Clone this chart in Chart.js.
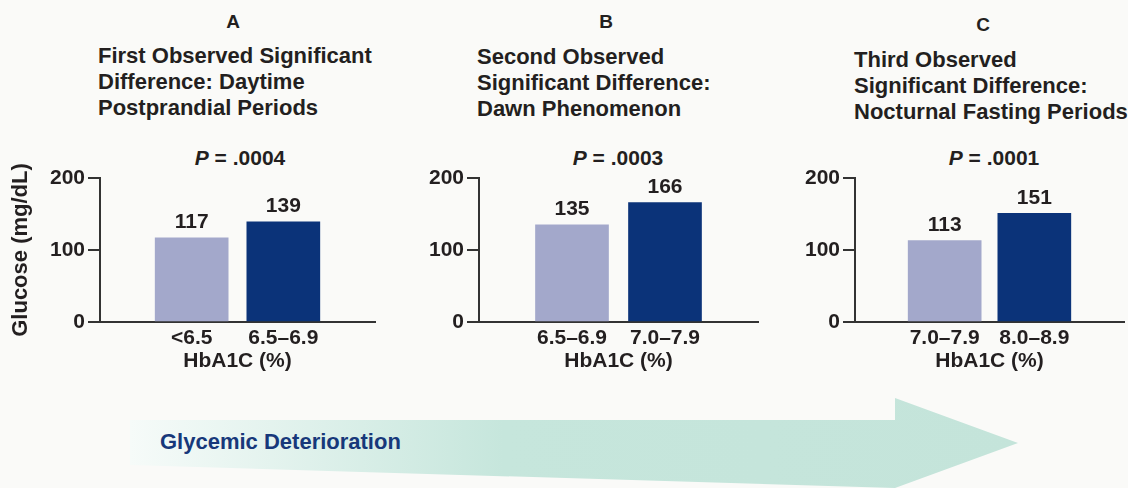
<!DOCTYPE html>
<html>
<head>
<meta charset="utf-8">
<script src="https://cdn.jsdelivr.net/npm/chart.js@4.4.0/dist/chart.umd.min.js"></script>
<style>
  body { margin:0; background:#fafaf8; width:1128px; height:488px; overflow:hidden; position:relative;
         font-family:"Liberation Sans", Arial, sans-serif; color:#231f20; }
  .abs { position:absolute; }
  .letter { font-weight:bold; font-size:19px; line-height:20px; transform:translateX(-50%); }
  .title { font-weight:bold; font-size:22px; line-height:26px; white-space:nowrap; }
  .pval { font-weight:bold; font-size:21px; line-height:22px; transform:translateX(-50%); white-space:nowrap; }
  .arrowText { font-weight:bold; font-size:22px; line-height:24px; color:#17387a; }
</style>
</head>
<body>

<svg class="abs" style="left:0;top:0" width="1128" height="488">
  <defs>
    <linearGradient id="arrowFill" x1="130" y1="0" x2="1018" y2="0" gradientUnits="userSpaceOnUse">
      <stop offset="0" stop-color="#f6fbf9"/>
      <stop offset="0.42" stop-color="#c6e6dc"/>
      <stop offset="1" stop-color="#c4e4da"/>
    </linearGradient>
  </defs>
  <polygon points="130,420 895,420 895,398 1018,443 895,488 130,465" fill="url(#arrowFill)"/>
</svg>
<div class="abs arrowText" style="left:160px;top:430px">Glycemic Deterioration</div>

<div id="heads"></div>

<canvas id="chartA" class="abs" width="379" height="230" style="left:0;top:150px"></canvas>
<canvas id="chartB" class="abs" width="343" height="230" style="left:419px;top:150px"></canvas>
<canvas id="chartC" class="abs" width="333" height="230" style="left:795px;top:150px"></canvas>

<script>
// data
const panelLetters = ['A', 'B', 'C'];
const panelTitles = [
  ['First Observed Significant', 'Difference: Daytime', 'Postprandial Periods'],
  ['Second Observed', 'Significant Difference:', 'Dawn Phenomenon'],
  ['Third Observed', 'Significant Difference:', 'Nocturnal Fasting Periods']
];
const pValues = ['.0004', '.0003', '.0001'];

const categoriesA = ['<6.5', '6.5\u20136.9'];
const categoriesB = ['6.5\u20136.9', '7.0\u20137.9'];
const categoriesC = ['7.0\u20137.9', '8.0\u20138.9'];

const glucoseA = [117, 139];
const glucoseB = [135, 166];
const glucoseC = [113, 151];

const yTicks = [0, 100, 200];
const xTitle = 'HbA1C (%)';
const yTitle = 'Glucose (mg/dL)';

const LIGHT = '#a3a8cb';
const DARK = '#0b3379';
const TXT = '#231f20';
const AXIS = '#333333';
const FONT = '"Liberation Sans", Arial, sans-serif';

// headings (letters, titles, P values)
const headPos = [
  {letter: 233, title: 98, titleTop: 43, p: 240},
  {letter: 606, title: 477, titleTop: 44, p: 618},
  {letter: 983, title: 854, titleTop: 47, p: 994}
];
const heads = document.getElementById('heads');
panelLetters.forEach((l, i) => {
  const hp = headPos[i];
  heads.insertAdjacentHTML('beforeend',
    `<div class="abs letter" style="left:${hp.letter}px;top:${12 + (i === 2 ? 3 : 0)}px">${l}</div>` +
    `<div class="abs title" style="left:${hp.title}px;top:${hp.titleTop}px">${panelTitles[i].join('<br>')}</div>` +
    `<div class="abs pval" style="left:${hp.p}px;top:147px"><i>P</i> = ${pValues[i]}</div>`);
});

// bar value labels
const valueLabels = {
  id: 'valueLabels',
  afterDatasetsDraw(chart) {
    const ctx = chart.ctx;
    const ds = chart.data.datasets[0];
    ctx.save();
    ctx.font = 'bold 21px ' + FONT;
    ctx.fillStyle = TXT;
    ctx.textAlign = 'center';
    ctx.textBaseline = 'bottom';
    chart.getDatasetMeta(0).data.forEach((bar, i) => {
      if (ds.data[i] == null) return;
      ctx.fillText(ds.data[i], bar.x, bar.y - 5);
    });
    ctx.restore();
  }
};

function makePanel(id, cats, vals, yWidth, showYTitle) {
  new Chart(document.getElementById(id), {
    type: 'bar',
    data: {
      labels: ['', ...cats, ''],
      datasets: [{
        data: [null, ...vals, null],
        backgroundColor: ['rgba(0,0,0,0)', LIGHT, DARK, 'rgba(0,0,0,0)'],
        barThickness: 73
      }]
    },
    options: {
      responsive: false,
      animation: false,
      layout: { padding: { top: 28, right: 0, bottom: 0, left: 0 } },
      plugins: { legend: { display: false }, tooltip: { enabled: false } },
      scales: {
        x: {
          offset: false,
          grid: { display: false, drawTicks: false, tickLength: 0 },
          border: { color: AXIS, width: 2 },
          ticks: { color: TXT, font: { family: FONT, size: 21, weight: 'bold' }, padding: 4, maxRotation: 0, autoSkip: false },
          title: { display: true, text: xTitle, color: TXT, font: { family: FONT, size: 21, weight: 'bold' }, padding: { top: 0, bottom: 6 } },
          afterFit: s => { s.height = 58; }
        },
        y: {
          min: 0, max: 200,
          afterBuildTicks: s => { s.ticks = yTicks.map(v => ({ value: v })); },
          grid: { drawOnChartArea: false, tickLength: 12, color: AXIS, lineWidth: 2 },
          border: { color: AXIS, width: 2 },
          ticks: { color: TXT, font: { family: FONT, size: 21, weight: 'bold' }, padding: 3 },
          title: { display: showYTitle, text: yTitle, color: TXT, font: { family: FONT, size: 22, weight: 'bold' }, padding: { top: 8, bottom: 0 } },
          afterFit: s => { s.width = yWidth; }
        }
      }
    },
    plugins: [valueLabels]
  });
}

makePanel('chartA', categoriesA, glucoseA, 100, true);
makePanel('chartB', categoriesB, glucoseB, 60, false);
makePanel('chartC', categoriesC, glucoseC, 60, false);
</script>
</body>
</html>
